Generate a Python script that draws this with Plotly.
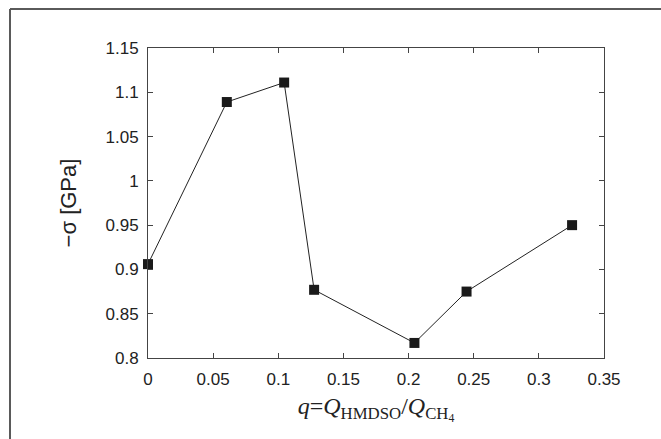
import plotly.graph_objects as go

q_values = [0.0, 0.0605, 0.1045, 0.1275, 0.2045, 0.2445, 0.3255]
neg_sigma = [0.906, 1.089, 1.111, 0.877, 0.817, 0.875, 0.950]

x_tickvals = [0, 0.05, 0.1, 0.15, 0.2, 0.25, 0.3, 0.35]
x_ticktext = ["0", "0.05", "0.1", "0.15", "0.2", "0.25", "0.3", "0.35"]
y_tickvals = [0.8, 0.85, 0.9, 0.95, 1.0, 1.05, 1.1, 1.15]
y_ticktext = ["0.8", "0.85", "0.9", "0.95", "1", "1.05", "1.1", "1.15"]

W, H = 661, 439
ML, MR, MT, MB = 148, 57, 48, 81
pw, ph = W - ML - MR, H - MT - MB

def px_x(p):
    return (p - ML) / pw

def px_y(p):
    return (H - MB - p) / ph

fig = go.Figure()
fig.add_trace(go.Scatter(
    x=q_values, y=neg_sigma, mode="lines+markers",
    line=dict(color="#222222", width=1),
    marker=dict(symbol="square", size=10, color="#1a1a1a"),
    cliponaxis=False, showlegend=False,
))

axis_common = dict(
    showline=True, linecolor="#444444", linewidth=1, mirror="ticks",
    ticks="inside", ticklen=5, tickcolor="#444444", showgrid=False, zeroline=False,
    tickfont=dict(family="Liberation Sans, Arial", size=17, color="#222222"),
)

fig.update_xaxes(
    range=[0, 0.35], tickvals=x_tickvals, ticktext=x_ticktext, **axis_common,
    ticklabelstandoff=6,
    title=dict(
        text="<i>q</i>=<i>Q</i><sub>HMDSO</sub>/<i>Q</i><sub>CH<sub>4</sub></sub>",
        font=dict(family="Liberation Serif, Times New Roman", size=24, color="#222222"),
        standoff=8,
    ),
)
fig.update_yaxes(
    range=[0.8, 1.15], tickvals=y_tickvals, ticktext=y_ticktext, **axis_common,
    ticklabelstandoff=5,
    title=dict(
        text="\u2212\u03c3 [GPa]",
        font=dict(family="Liberation Sans, Arial", size=22, color="#222222"),
        standoff=22,
    ),
)

# outer frame (top and left edges)
fig.add_shape(type="line", xref="paper", yref="paper",
              x0=px_x(10), x1=px_x(W + 5), y0=px_y(9), y1=px_y(9),
              line=dict(color="#5a5a5a", width=2))
fig.add_shape(type="line", xref="paper", yref="paper",
              x0=px_x(10), x1=px_x(10), y0=px_y(9), y1=px_y(H + 5),
              line=dict(color="#5a5a5a", width=2))

fig.update_layout(
    width=W, height=H,
    margin=dict(l=ML, r=MR, t=MT, b=MB, autoexpand=False),
    paper_bgcolor="white", plot_bgcolor="white",
)

fig.write_html("out.html")
